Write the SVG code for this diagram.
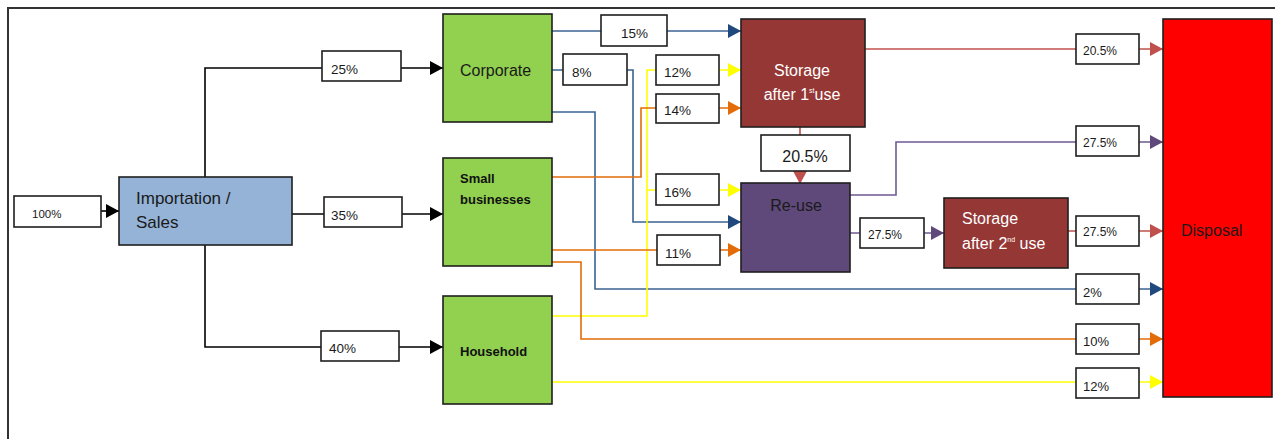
<svg xmlns="http://www.w3.org/2000/svg" width="1275" height="439" viewBox="0 0 1275 439">
<style>
.node{stroke:#1e1e1e;stroke-width:1.6}
.lab{fill:#fff;stroke:#1e1e1e;stroke-width:1.6}
.t{font-family:"Liberation Sans",Arial,sans-serif;fill:#1a1a1a}
.w{font-family:"Liberation Sans",Arial,sans-serif;fill:#fff}
.b{font-family:"Liberation Sans",Arial,sans-serif;font-weight:bold;fill:#111}
.c{fill:none;stroke-width:1.6}
</style>
<defs>
<marker id="mk" markerUnits="userSpaceOnUse" markerWidth="13" markerHeight="14" refX="13" refY="7" orient="auto"><path d="M0,0 L13,7 L0,14 z" fill="#000"/></marker>
<marker id="mb" markerUnits="userSpaceOnUse" markerWidth="13" markerHeight="14" refX="13" refY="7" orient="auto"><path d="M0,0 L13,7 L0,14 z" fill="#1F497D"/></marker>
<marker id="my" markerUnits="userSpaceOnUse" markerWidth="13" markerHeight="14" refX="13" refY="7" orient="auto"><path d="M0,0 L13,7 L0,14 z" fill="#FFFF00"/></marker>
<marker id="mo" markerUnits="userSpaceOnUse" markerWidth="13" markerHeight="14" refX="13" refY="7" orient="auto"><path d="M0,0 L13,7 L0,14 z" fill="#E36C09"/></marker>
<marker id="mr" markerUnits="userSpaceOnUse" markerWidth="13" markerHeight="14" refX="13" refY="7" orient="auto"><path d="M0,0 L13,7 L0,14 z" fill="#C0504D"/></marker>
<marker id="mp" markerUnits="userSpaceOnUse" markerWidth="13" markerHeight="14" refX="13" refY="7" orient="auto"><path d="M0,0 L13,7 L0,14 z" fill="#5F497A"/></marker>
</defs>
<rect width="1275" height="439" fill="#fff"/>
<path d="M8,439 V8 H1275" fill="none" stroke="#333" stroke-width="2"/>

<g id="connectors">
<g stroke="#000">
<path class="c" d="M101,211 H119" marker-end="url(#mk)"/>
<path class="c" d="M205,177 V68 H443" marker-end="url(#mk)"/>
<path class="c" d="M292,214 H443" marker-end="url(#mk)"/>
<path class="c" d="M205,245 V347 H443" marker-end="url(#mk)"/>
</g>
<g stroke="#3A6393">
<path class="c" d="M552,31 H741" marker-end="url(#mb)"/>
<path class="c" d="M552,70 H633 V222 H741" marker-end="url(#mb)"/>
<path class="c" d="M552,112 H595 V289 H1163" marker-end="url(#mb)"/>
</g>
<g stroke="#FFFF00">
<path class="c" d="M552,316 H647 V70 H741" marker-end="url(#my)"/>
<path class="c" d="M647,190 H741" marker-end="url(#my)"/>
<path class="c" d="M552,382 H1163" marker-end="url(#my)"/>
</g>
<g stroke="#E36C09">
<path class="c" d="M552,177 H641 V108 H741" marker-end="url(#mo)"/>
<path class="c" d="M552,250 H741" marker-end="url(#mo)"/>
<path class="c" d="M552,262 H581 V339 H1163" marker-end="url(#mo)"/>
</g>
<g stroke="#C0504D">
<path class="c" d="M865,49 H1163" marker-end="url(#mr)"/>
<path class="c" d="M800,127 V184" marker-end="url(#mr)"/>
<path class="c" d="M1068,231 H1163" marker-end="url(#mr)"/>
</g>
<g stroke="#6E5A92">
<path class="c" d="M850,195 H896 V142 H1163" marker-end="url(#mp)"/>
<path class="c" d="M850,233 H944" marker-end="url(#mp)"/>
</g>
</g>

<g id="labels">
<rect class="lab" x="14" y="196" width="87" height="31"/><text class="t" x="32" y="218" font-size="11.5">100%</text>
<rect class="lab" x="322" y="51" width="79" height="30"/><text class="t" x="331" y="74" font-size="13.5">25%</text>
<rect class="lab" x="324" y="197" width="78" height="30"/><text class="t" x="331" y="220" font-size="13.5">35%</text>
<rect class="lab" x="321" y="331" width="78" height="30"/><text class="t" x="329" y="353" font-size="13.5">40%</text>
<rect class="lab" x="601" y="15" width="66" height="31"/><text class="t" x="621" y="38" font-size="13.5">15%</text>
<rect class="lab" x="563" y="54" width="64" height="31"/><text class="t" x="572" y="77" font-size="13.5">8%</text>
<rect class="lab" x="656" y="55" width="63" height="30"/><text class="t" x="664" y="77" font-size="13.5">12%</text>
<rect class="lab" x="656" y="94" width="63" height="29"/><text class="t" x="664" y="115" font-size="13.5">14%</text>
<rect class="lab" x="656" y="174" width="63" height="31"/><text class="t" x="664" y="197" font-size="13.5">16%</text>
<rect class="lab" x="657" y="235" width="63" height="30"/><text class="t" x="665" y="258" font-size="13.5">11%</text>
<rect class="lab" x="761" y="135" width="89" height="36"/><text class="t" x="805" y="162" font-size="16" text-anchor="middle">20.5%</text>
<rect class="lab" x="1076" y="34" width="63" height="30"/><text class="t" x="1083" y="55" font-size="12">20.5%</text>
<rect class="lab" x="1076" y="126" width="63" height="30"/><text class="t" x="1083" y="147" font-size="12">27.5%</text>
<rect class="lab" x="860" y="218" width="64" height="30"/><text class="t" x="868" y="239" font-size="12">27.5%</text>
<rect class="lab" x="1076" y="216" width="63" height="30"/><text class="t" x="1083" y="236" font-size="12">27.5%</text>
<rect class="lab" x="1076" y="274" width="63" height="30"/><text class="t" x="1083" y="297" font-size="13">2%</text>
<rect class="lab" x="1076" y="324" width="63" height="30"/><text class="t" x="1083" y="346" font-size="13">10%</text>
<rect class="lab" x="1076" y="368" width="63" height="30"/><text class="t" x="1083" y="391" font-size="13">12%</text>
</g>

<g id="importation">
<rect class="node" x="119" y="177" width="173" height="68" fill="#95B3D7"/>
<text class="t" x="136" y="204" font-size="17">Importation /</text>
<text class="t" x="136" y="228" font-size="17">Sales</text>
</g>
<g id="corporate">
<rect class="node" x="443" y="14" width="109" height="108" fill="#92D050"/>
<text class="t" x="460" y="76" font-size="16">Corporate</text>
</g>
<g id="small-businesses">
<rect class="node" x="443" y="158" width="109" height="108" fill="#92D050"/>
<text class="b" x="460" y="183" font-size="13">Small</text>
<text class="b" x="460" y="204" font-size="13">businesses</text>
</g>
<g id="household">
<rect class="node" x="443" y="296" width="109" height="108" fill="#92D050"/>
<text class="b" x="460" y="356" font-size="13">Household</text>
</g>
<g id="storage1">
<rect class="node" x="741" y="19" width="124" height="108" fill="#953735"/>
<text class="w" x="802" y="76" font-size="16" text-anchor="middle">Storage</text>
<text class="w" x="802" y="100" font-size="16" text-anchor="middle">after 1<tspan font-size="7" dy="-7">st</tspan><tspan dy="7">use</tspan></text>
</g>
<g id="reuse">
<rect class="node" x="741" y="183" width="109" height="89" fill="#5F497A"/>
<text class="t" x="796" y="211" font-size="16" text-anchor="middle">Re-use</text>
</g>
<g id="storage2">
<rect class="node" x="944" y="198" width="124" height="70" fill="#953735"/>
<text class="w" x="962" y="224" font-size="16">Storage</text>
<text class="w" x="962" y="249" font-size="16">after 2<tspan font-size="7" dy="-7">nd</tspan><tspan dy="7"> use</tspan></text>
</g>
<g id="disposal">
<rect class="node" x="1163" y="19" width="109" height="378" fill="#FF0000"/>
<text class="t" x="1181" y="236" font-size="16">Disposal</text>
</g>
</svg>
